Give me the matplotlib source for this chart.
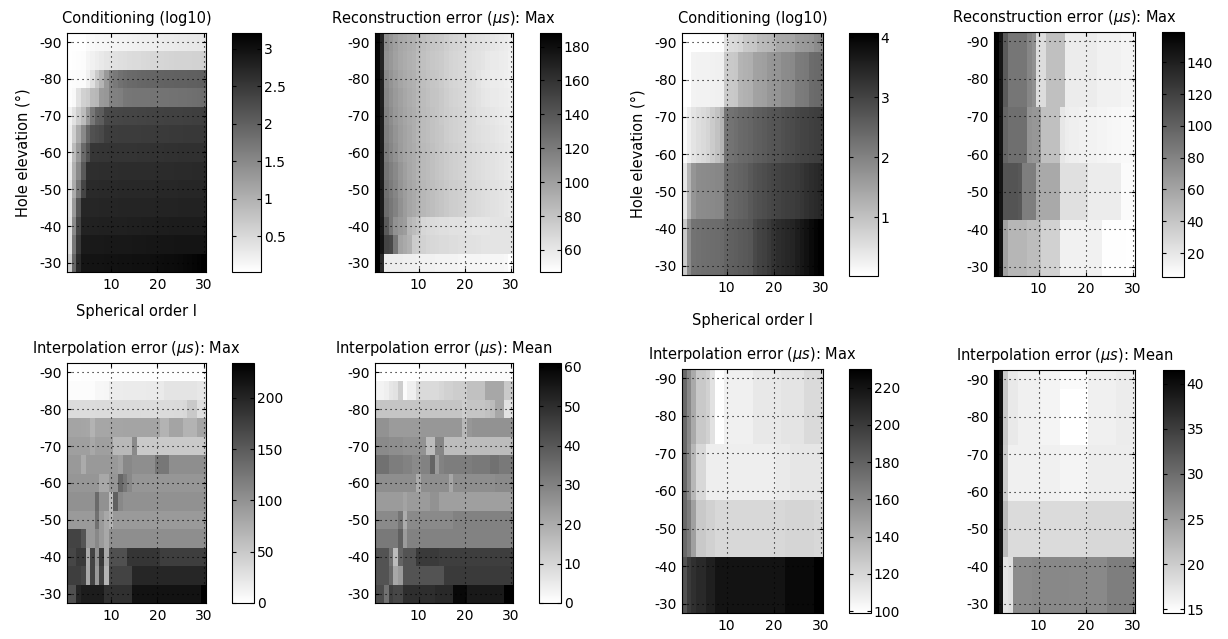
import numpy as np
import matplotlib
matplotlib.use('Agg')
import matplotlib.pyplot as plt
from matplotlib.ticker import FormatStrFormatter

plt.rcParams['font.family'] = 'DejaVu Sans'
plt.rcParams['axes.unicode_minus'] = False

#==============================================================================
# Data: rows = hole elevation (-90 .. -30), columns = spherical order 1..30
#==============================================================================
elevation = [-90, -85, -80, -75, -70, -65, -60, -55, -50, -45, -40, -35, -30]
order = list(range(1, 31))

# left set, conditioning (log10)
cond_left = [
    [0.02, 0.02, 0.03, 0.03, 0.08, 0.10, 0.12, 0.13, 0.14, 0.15, 0.16, 0.17, 0.18, 0.19, 0.20, 0.21, 0.22, 0.23, 0.24, 0.25, 0.26, 0.27, 0.28, 0.29, 0.30, 0.30, 0.31, 0.31, 0.32, 0.33],
    [0.03, 0.04, 0.05, 0.06, 0.15, 0.20, 0.25, 0.30, 0.35, 0.38, 0.40, 0.42, 0.44, 0.46, 0.47, 0.48, 0.50, 0.51, 0.52, 0.53, 0.54, 0.55, 0.56, 0.57, 0.57, 0.58, 0.58, 0.59, 0.59, 0.60],
    [0.05, 0.06, 0.07, 0.08, 0.20, 0.40, 0.70, 0.95, 1.30, 1.60, 1.70, 1.80, 1.85, 1.88, 1.90, 1.92, 1.93, 1.94, 1.95, 1.96, 1.97, 1.98, 1.98, 1.99, 2.00, 2.00, 2.01, 2.01, 2.02, 2.02],
    [0.05, 0.10, 0.39, 0.60, 0.66, 0.88, 0.92, 1.28, 1.32, 1.58, 1.60, 1.62, 1.72, 1.73, 1.74, 1.74, 1.75, 1.75, 1.76, 1.76, 1.77, 1.77, 1.78, 1.78, 1.79, 1.80, 1.81, 1.82, 1.83, 1.85],
    [0.19, 0.39, 0.64, 0.86, 1.28, 1.71, 2.00, 2.05, 2.30, 2.31, 2.32, 2.33, 2.34, 2.35, 2.35, 2.36, 2.36, 2.37, 2.37, 2.38, 2.38, 2.39, 2.39, 2.40, 2.40, 2.41, 2.41, 2.42, 2.42, 2.43],
    [0.22, 0.64, 1.07, 1.50, 1.93, 2.20, 2.25, 2.30, 2.43, 2.44, 2.44, 2.45, 2.45, 2.46, 2.46, 2.46, 2.47, 2.47, 2.47, 2.48, 2.48, 2.48, 2.49, 2.49, 2.49, 2.50, 2.50, 2.50, 2.51, 2.51],
    [0.22, 0.86, 1.28, 1.88, 2.20, 2.53, 2.53, 2.54, 2.54, 2.55, 2.55, 2.55, 2.56, 2.56, 2.56, 2.57, 2.57, 2.57, 2.58, 2.58, 2.58, 2.59, 2.59, 2.59, 2.60, 2.60, 2.60, 2.61, 2.61, 2.61],
    [0.29, 1.00, 1.50, 2.10, 2.63, 2.63, 2.63, 2.64, 2.64, 2.64, 2.64, 2.65, 2.65, 2.65, 2.65, 2.66, 2.66, 2.66, 2.66, 2.67, 2.67, 2.67, 2.67, 2.68, 2.68, 2.68, 2.68, 2.69, 2.69, 2.69],
    [0.39, 1.07, 1.71, 2.35, 2.68, 2.68, 2.68, 2.69, 2.69, 2.69, 2.69, 2.70, 2.70, 2.70, 2.70, 2.71, 2.71, 2.71, 2.71, 2.72, 2.72, 2.72, 2.72, 2.72, 2.73, 2.73, 2.73, 2.73, 2.73, 2.73],
    [0.39, 1.28, 2.14, 2.73, 2.73, 2.73, 2.73, 2.74, 2.74, 2.74, 2.74, 2.75, 2.75, 2.75, 2.75, 2.76, 2.76, 2.76, 2.76, 2.77, 2.77, 2.77, 2.77, 2.77, 2.78, 2.78, 2.78, 2.78, 2.78, 2.78],
    [0.43, 1.50, 2.35, 2.78, 2.78, 2.79, 2.79, 2.80, 2.80, 2.80, 2.81, 2.81, 2.81, 2.82, 2.82, 2.82, 2.83, 2.83, 2.83, 2.84, 2.84, 2.84, 2.85, 2.85, 2.85, 2.85, 2.86, 2.86, 2.86, 2.86],
    [0.43, 1.71, 2.50, 2.88, 2.88, 2.89, 2.89, 2.89, 2.90, 2.90, 2.90, 2.91, 2.91, 2.91, 2.92, 2.92, 2.92, 2.93, 2.93, 2.93, 2.94, 2.94, 2.94, 2.95, 2.95, 2.95, 2.95, 2.96, 2.96, 2.96],
    [0.64, 1.93, 2.68, 2.96, 2.96, 2.97, 2.97, 2.97, 2.98, 2.98, 2.98, 2.99, 2.99, 2.99, 3.00, 3.00, 3.01, 3.01, 3.02, 3.03, 3.04, 3.05, 3.06, 3.07, 3.08, 3.10, 3.12, 3.14, 3.17, 3.21],
]

# left set, reconstruction error max (us)
recon_left = [
    [184, 168, 110, 105, 100, 96, 94, 92, 90, 86, 83, 81, 79, 78, 77, 74, 72, 71, 70, 69, 66, 65, 64, 63, 62, 61, 60, 59, 58, 56],
    [184, 168, 108, 104, 99, 95, 93, 91, 89, 85, 82, 80, 78, 77, 76, 73, 71, 70, 69, 68, 65, 64, 63, 62, 60, 59, 59, 58, 57, 55],
    [185, 170, 112, 106, 101, 97, 94, 92, 90, 86, 83, 81, 79, 78, 76, 73, 71, 70, 69, 68, 66, 65, 62, 60, 59, 58, 58, 57, 56, 55],
    [185, 170, 114, 108, 103, 99, 96, 93, 91, 87, 84, 82, 80, 79, 77, 74, 72, 71, 70, 69, 66, 65, 63, 61, 60, 59, 59, 58, 57, 56],
    [185, 171, 116, 110, 104, 100, 97, 94, 92, 88, 85, 83, 81, 79, 77, 75, 73, 72, 71, 70, 67, 66, 64, 63, 62, 61, 60, 59, 58, 57],
    [186, 171, 118, 112, 106, 101, 98, 95, 92, 88, 85, 83, 81, 79, 78, 75, 73, 72, 71, 70, 67, 66, 65, 64, 63, 62, 61, 60, 59, 58],
    [186, 172, 120, 114, 108, 102, 98, 95, 93, 89, 86, 84, 82, 80, 78, 76, 74, 73, 72, 71, 68, 67, 66, 65, 64, 63, 62, 61, 60, 59],
    [186, 172, 124, 118, 112, 105, 100, 96, 93, 89, 86, 84, 82, 80, 78, 76, 74, 73, 72, 71, 68, 67, 66, 65, 64, 63, 62, 61, 60, 59],
    [187, 173, 126, 120, 114, 106, 101, 97, 94, 90, 87, 85, 83, 81, 79, 77, 75, 74, 73, 72, 69, 68, 67, 66, 65, 64, 63, 62, 61, 60],
    [187, 173, 128, 122, 116, 108, 102, 97, 94, 90, 87, 85, 83, 81, 79, 77, 75, 74, 73, 72, 69, 68, 67, 66, 65, 64, 63, 62, 61, 60],
    [187, 175, 138, 122, 108, 104, 101, 88, 84, 80, 70, 68, 67, 66, 65, 65, 64, 64, 64, 63, 62, 61, 61, 61, 61, 62, 62, 62, 62, 62],
    [188, 178, 150, 148, 122, 98, 94, 90, 76, 74, 72, 70, 69, 68, 67, 67, 66, 66, 65, 65, 64, 64, 63, 62, 62, 62, 62, 62, 62, 62],
    [188, 165, 58, 57, 57, 57, 56, 56, 56, 55, 55, 55, 55, 54, 54, 54, 54, 54, 53, 53, 53, 53, 53, 52, 52, 52, 52, 52, 51, 47],
]

# left set, interpolation error max (us)
interp_max_left = [
    [0, 0, 0, 1, 1, 1, 1, 1, 1, 1, 1, 1, 1, 1, 1, 1, 1, 1, 1, 1, 1, 1, 1, 1, 1, 1, 1, 1, 1, 1],
    [3, 3, 3, 3, 3, 3, 8, 8, 9, 18, 18, 18, 19, 19, 19, 19, 19, 20, 20, 20, 20, 25, 25, 25, 25, 25, 25, 25, 22, 22],
    [32, 32, 32, 32, 32, 32, 33, 33, 33, 33, 33, 33, 33, 33, 33, 33, 32, 32, 32, 32, 33, 33, 33, 34, 34, 36, 50, 50, 30, 30],
    [84, 84, 84, 83, 82, 70, 82, 82, 82, 83, 83, 83, 84, 84, 84, 84, 84, 84, 84, 84, 70, 70, 84, 84, 84, 70, 70, 70, 84, 84],
    [88, 88, 88, 88, 88, 80, 88, 88, 88, 87, 65, 65, 65, 65, 107, 50, 50, 50, 50, 50, 50, 50, 50, 50, 50, 50, 50, 50, 50, 50],
    [94, 94, 94, 77, 94, 94, 94, 94, 94, 94, 94, 87, 109, 109, 104, 104, 104, 104, 104, 125, 125, 125, 104, 104, 104, 104, 104, 104, 104, 104],
    [96, 96, 96, 96, 96, 96, 96, 80, 80, 96, 96, 140, 125, 109, 96, 96, 96, 96, 96, 96, 96, 96, 96, 96, 96, 96, 96, 96, 96, 96],
    [101, 101, 101, 101, 101, 101, 137, 101, 101, 62, 146, 109, 101, 101, 101, 101, 101, 101, 101, 101, 101, 101, 101, 101, 101, 101, 101, 101, 101, 101],
    [93, 93, 93, 93, 93, 93, 130, 93, 80, 70, 93, 93, 93, 93, 93, 93, 93, 93, 93, 93, 93, 93, 93, 93, 93, 93, 93, 93, 93, 93],
    [172, 172, 172, 156, 94, 94, 109, 94, 80, 104, 104, 104, 104, 104, 104, 104, 104, 104, 104, 104, 104, 104, 104, 104, 104, 104, 104, 104, 104, 104],
    [170, 170, 181, 181, 78, 172, 101, 181, 80, 160, 160, 160, 160, 185, 185, 185, 185, 185, 185, 185, 177, 177, 177, 177, 177, 177, 177, 177, 177, 177],
    [177, 177, 177, 170, 80, 172, 94, 172, 69, 172, 172, 172, 172, 172, 199, 199, 199, 199, 199, 199, 199, 199, 199, 199, 199, 199, 199, 199, 199, 199],
    [160, 160, 200, 208, 208, 208, 208, 208, 190, 190, 190, 190, 190, 190, 217, 217, 217, 217, 217, 217, 217, 217, 217, 217, 217, 217, 217, 217, 217, 234],
]

# left set, interpolation error mean (us)
interp_mean_left = [
    [0, 0, 0, 0, 0, 0, 0, 0, 0, 0, 1, 1, 1, 1, 1, 1, 1, 1, 1, 1, 1, 1, 1, 1, 1, 1, 1, 1, 1, 1],
    [3, 3, 4, 6, 7, 12, 1, 4, 4, 9, 9, 9, 9, 9, 10, 11, 11, 12, 12, 12, 15, 15, 15, 15, 21, 21, 21, 21, 13, 13],
    [14, 14, 14, 14, 14, 14, 14, 14, 14, 14, 14, 14, 14, 14, 14, 14, 14, 14, 14, 12, 14, 14, 14, 14, 15, 16, 21, 21, 7, 7],
    [26, 26, 26, 24, 24, 24, 24, 24, 24, 24, 25, 25, 25, 25, 25, 25, 25, 25, 25, 17, 25, 26, 26, 26, 26, 26, 26, 26, 26, 26],
    [28, 28, 28, 27, 27, 27, 26, 26, 26, 26, 26, 16, 16, 29, 29, 16, 16, 16, 16, 16, 16, 16, 16, 16, 16, 16, 16, 16, 16, 16],
    [34, 34, 34, 31, 31, 31, 30, 30, 28, 28, 30, 30, 37, 24, 30, 31, 31, 31, 31, 31, 31, 32, 32, 32, 32, 34, 34, 32, 32, 32],
    [27, 27, 27, 27, 27, 27, 27, 27, 27, 20, 27, 27, 27, 27, 27, 27, 21, 27, 27, 27, 27, 27, 27, 27, 27, 27, 28, 28, 28, 28],
    [24, 24, 24, 24, 24, 24, 22, 24, 24, 24, 24, 24, 26, 26, 23, 23, 23, 23, 23, 23, 23, 23, 23, 23, 23, 23, 23, 23, 23, 23],
    [28, 28, 28, 28, 28, 33, 20, 28, 28, 28, 28, 28, 28, 28, 28, 28, 28, 30, 30, 30, 30, 30, 30, 30, 30, 30, 30, 30, 30, 30],
    [32, 32, 32, 32, 32, 38, 24, 30, 30, 30, 30, 30, 30, 30, 30, 30, 30, 30, 30, 30, 30, 30, 30, 30, 30, 30, 30, 30, 30, 30],
    [41, 41, 41, 34, 16, 37, 41, 41, 41, 47, 47, 47, 47, 47, 46, 46, 46, 46, 46, 46, 46, 46, 46, 46, 46, 46, 46, 46, 46, 46],
    [41, 41, 41, 36, 21, 24, 41, 41, 41, 41, 41, 41, 41, 41, 41, 47, 47, 47, 47, 47, 47, 47, 47, 47, 47, 47, 47, 47, 47, 47],
    [43, 43, 34, 46, 44, 44, 50, 50, 50, 50, 50, 50, 50, 51, 51, 51, 51, 59, 59, 59, 55, 55, 55, 55, 55, 55, 55, 55, 61, 61],
]

# right set: values come in bands of three elevations (-85..-75, -70..-60, -55..-45, -40..-30)
cond_r_top = [0.02, 0.02, 0.03, 0.03, 0.04, 0.04, 0.05, 0.05, 0.06, 0.49, 0.60, 0.63, 0.70, 0.89, 0.92, 0.95, 1.10, 1.13, 1.16, 1.20, 1.39, 1.40, 1.42, 1.45, 1.60, 1.63, 1.66, 1.70, 1.85, 1.90]
cond_r_b1 = [0.03, 0.05, 0.22, 0.23, 0.24, 0.24, 0.25, 0.26, 0.27, 0.85, 0.89, 0.92, 1.22, 1.26, 1.30, 1.50, 1.52, 1.55, 1.68, 1.70, 1.72, 1.85, 1.87, 1.90, 2.10, 2.12, 2.15, 2.35, 2.38, 2.40]
cond_r_b2 = [0.10, 0.30, 0.45, 0.55, 0.62, 0.70, 0.85, 1.00, 1.20, 2.20, 2.25, 2.30, 2.38, 2.42, 2.46, 2.55, 2.58, 2.62, 2.68, 2.71, 2.74, 2.80, 2.84, 2.88, 2.94, 2.98, 3.00, 3.05, 3.08, 3.10]
cond_r_b3 = [0.40, 1.20, 1.70, 1.85, 1.87, 1.88, 1.90, 1.92, 1.95, 2.38, 2.40, 2.45, 2.50, 2.55, 2.65, 2.75, 2.80, 2.85, 2.90, 2.95, 3.00, 3.05, 3.08, 3.10, 3.15, 3.20, 3.28, 3.35, 3.40, 3.45]
cond_r_b4 = [0.89, 1.85, 2.25, 2.28, 2.30, 2.32, 2.34, 2.36, 2.38, 2.50, 2.54, 2.58, 2.62, 2.66, 2.70, 2.90, 3.00, 3.05, 3.15, 3.25, 3.35, 3.40, 3.45, 3.50, 3.60, 3.70, 3.80, 3.90, 4.00, 4.07]
cond_right = [cond_r_top, cond_r_b1, cond_r_b1, cond_r_b1, cond_r_b2, cond_r_b2, cond_r_b2,
              cond_r_b3, cond_r_b3, cond_r_b3, cond_r_b4, cond_r_b4, cond_r_b4]

recon_r_b1 = [158, 145, 104, 88, 88, 88, 88, 78, 72, 26, 26, 43, 43, 43, 43, 17, 17, 17, 17, 17, 17, 17, 14, 14, 14, 14, 14, 12, 12, 12]
recon_r_b2 = [158, 146, 98, 92, 92, 92, 92, 70, 68, 68, 43, 43, 43, 43, 20, 16, 15, 15, 14, 14, 13, 13, 12, 12, 11, 10, 10, 9, 9, 9]
recon_r_b3 = [158, 146, 108, 108, 108, 106, 83, 83, 83, 57, 57, 57, 57, 57, 24, 24, 24, 24, 24, 24, 17, 17, 17, 17, 17, 17, 17, 8, 8, 8]
recon_r_b4 = [159, 147, 62, 49, 49, 49, 49, 45, 45, 45, 33, 33, 33, 33, 14, 14, 14, 14, 14, 14, 14, 14, 14, 6, 6, 6, 6, 6, 5, 5]
recon_right = [recon_r_b1, recon_r_b1, recon_r_b1, recon_r_b1, recon_r_b2, recon_r_b2, recon_r_b2,
               recon_r_b3, recon_r_b3, recon_r_b3, recon_r_b4, recon_r_b4, recon_r_b4]

imax_r_b1 = [176, 160, 143, 127, 127, 123, 114, 99, 100, 107, 107, 107, 107, 107, 107, 111, 111, 111, 111, 111, 111, 113, 113, 113, 113, 113, 118, 118, 118, 118]
imax_r_b2 = [176, 159, 136, 119, 119, 108, 108, 108, 108, 108, 108, 108, 108, 108, 108, 108, 108, 108, 108, 108, 110, 110, 110, 112, 112, 112, 112, 112, 112, 112]
imax_r_b3 = [176, 167, 148, 127, 127, 123, 123, 119, 119, 119, 119, 119, 119, 119, 119, 119, 119, 119, 119, 119, 119, 119, 121, 121, 121, 121, 121, 121, 119, 119]
imax_r_b4 = [188, 200, 205, 209, 209, 214, 214, 220, 220, 220, 220, 220, 220, 220, 220, 220, 220, 220, 220, 220, 220, 220, 225, 225, 225, 225, 225, 225, 230, 230]
interp_max_right = [imax_r_b1, imax_r_b1, imax_r_b1, imax_r_b1, imax_r_b2, imax_r_b2, imax_r_b2,
                    imax_r_b3, imax_r_b3, imax_r_b3, imax_r_b4, imax_r_b4, imax_r_b4]

imean_r_top = [41.5, 39.7, 20.3, 17.0, 17.0, 16.2, 16.2, 16.2, 16.2, 16.2, 15.8, 15.8, 15.8, 15.8, 15.2, 15.2, 15.2, 15.2, 15.2, 15.2, 16.2, 16.2, 16.2, 16.2, 16.2, 16.2, 16.7, 16.7, 16.7, 16.7]
imean_r_b1 = [41.5, 39.7, 20.3, 17.0, 17.0, 16.2, 16.2, 16.2, 16.2, 16.2, 15.8, 15.8, 15.8, 15.8, 14.6, 14.6, 14.6, 14.6, 14.6, 14.6, 16.2, 16.2, 16.2, 16.2, 16.2, 16.2, 16.7, 16.7, 16.7, 16.7]
imean_r_b2 = [41.5, 39.5, 20.0, 16.2, 16.2, 16.2, 16.2, 16.2, 16.2, 16.2, 16.2, 16.2, 16.2, 16.2, 15.8, 15.8, 15.8, 15.8, 15.8, 15.8, 16.5, 16.5, 16.5, 16.5, 16.5, 16.5, 16.5, 16.5, 16.5, 16.5]
imean_r_b3 = [41.3, 39.3, 21.8, 18.4, 18.4, 18.4, 18.4, 18.4, 18.4, 18.4, 18.4, 18.4, 18.4, 18.4, 18.4, 18.4, 18.4, 18.4, 18.4, 18.4, 18.8, 18.8, 18.8, 18.8, 18.8, 18.8, 18.8, 18.8, 18.8, 18.8]
imean_r_b4 = [41.4, 39.6, 17.6, 18.0, 26.8, 26.8, 26.8, 26.8, 27.2, 27.2, 27.2, 27.2, 27.2, 27.2, 27.2, 27.2, 27.0, 27.0, 27.0, 27.0, 27.0, 27.0, 27.0, 27.0, 28.2, 28.2, 28.2, 28.2, 28.2, 28.2]
interp_mean_right = [imean_r_top, imean_r_b1, imean_r_b1, imean_r_b1, imean_r_b2, imean_r_b2, imean_r_b2,
                     imean_r_b3, imean_r_b3, imean_r_b3, imean_r_b4, imean_r_b4, imean_r_b4]

#==============================================================================
# Plot
#==============================================================================
W, H = 1228, 639
fig = plt.figure(figsize=(W / 100.0, H / 100.0), dpi=100)


def px(x0, y0, x1, y1):
    return [x0 / W, 1 - y1 / H, (x1 - x0) / W, (y1 - y0) / H]


xe = np.append(np.array(order) - 0.5, order[-1] + 0.5)
ye = np.append(np.array(elevation) - 2.5, elevation[-1] + 2.5)


def panel(box, cbox, data, title, cticks, ylab=False, xlab=None):
    ax = fig.add_axes(px(*box))
    mesh = ax.pcolormesh(xe, ye, np.array(data, dtype=float), cmap='gray_r', shading='flat')
    ax.set_xlim(xe[0], xe[-1])
    ax.set_ylim(ye[-1], ye[0])
    ax.set_xticks([10, 20, 30])
    ax.set_yticks([-90, -80, -70, -60, -50, -40, -30])
    ax.grid(True, color='k', linestyle=(0, (1, 3.5)), linewidth=0.8)
    ax.set_axisbelow(False)
    ax.tick_params(direction='in', length=3, top=True, right=True, labelsize=10, pad=4)
    for s in ax.spines.values():
        s.set_linewidth(0.8)
    ax.set_title(title, fontsize=10.5, pad=7)
    if ylab:
        ax.set_ylabel(u'Hole elevation (\u00b0)', fontsize=10.5, labelpad=6)
    if xlab is not None:
        ax.set_xlabel('Spherical order l', fontsize=10.5, labelpad=xlab)
    cax = fig.add_axes(px(*cbox))
    cb = fig.colorbar(mesh, cax=cax, ticks=cticks)
    cb.outline.set_linewidth(0.8)
    cax.yaxis.set_major_formatter(FormatStrFormatter('%g'))
    cax.tick_params(direction='in', length=3, left=True, right=True, labelsize=10, pad=2)
    return ax


mu = r'($\mu s$)'
panel((67, 33, 206, 272), (232, 33, 261, 272), cond_left, 'Conditioning (log10)',
      [0.5, 1, 1.5, 2, 2.5, 3], ylab=True, xlab=9)
panel((375, 33, 513, 272), (540, 33, 561, 272), recon_left, 'Reconstruction error ' + mu + ': Max',
      [60, 80, 100, 120, 140, 160, 180])
panel((682, 33, 823, 275), (849, 33, 878, 276), cond_right, 'Conditioning (log10)',
      [1, 2, 3, 4], ylab=True, xlab=13)
panel((994, 32, 1135, 276), (1162, 32, 1184, 277), recon_right, 'Reconstruction error ' + mu + ': Max',
      [20, 40, 60, 80, 100, 120, 140])
panel((67, 363, 206, 603), (232, 363, 254, 603), interp_max_left, 'Interpolation error ' + mu + ': Max',
      [0, 50, 100, 150, 200])
panel((375, 363, 513, 603), (539, 363, 561, 603), interp_mean_left, 'Interpolation error ' + mu + ': Mean',
      [0, 10, 20, 30, 40, 50, 60])
panel((682, 369, 823, 613), (849, 369, 871, 613), interp_max_right, 'Interpolation error ' + mu + ': Max',
      [100, 120, 140, 160, 180, 200, 220])
panel((994, 370, 1135, 613), (1163, 370, 1184, 613), interp_mean_right, 'Interpolation error ' + mu + ': Mean',
      [15, 20, 25, 30, 35, 40])

plt.savefig('out.png', dpi=100)
